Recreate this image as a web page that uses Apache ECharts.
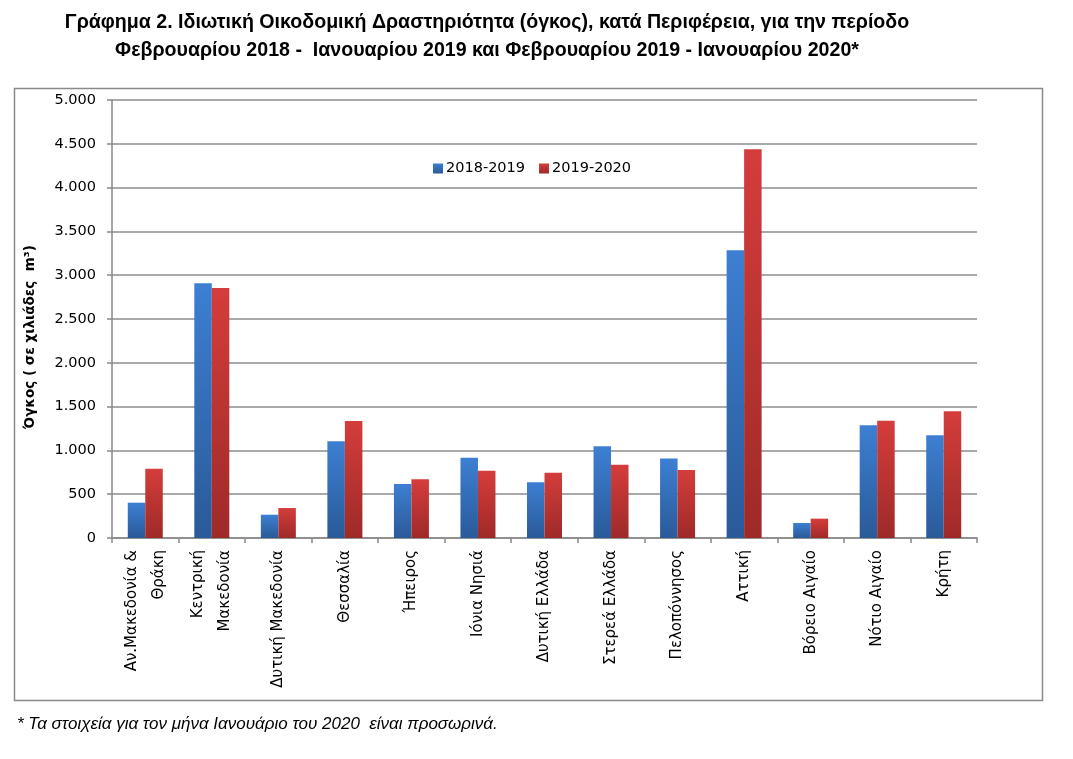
<!DOCTYPE html>
<html>
<head>
<meta charset="utf-8">
<script src="https://cdn.jsdelivr.net/npm/echarts@6/dist/echarts.min.js"></script>
<style>
html,body{margin:0;padding:0;background:#fff;}
#c{width:1073px;height:759px;}
</style>
</head>
<body>
<div id="c"></div>
<script>
var categories = ["Αν.Μακεδονία &\nΘράκη", "Κεντρική\nΜακεδονία", "Δυτική Μακεδονία", "Θεσσαλία", "Ήπειρος", "Ιόνια Νησιά", "Δυτική Ελλάδα", "Στερεά Ελλάδα", "Πελοπόννησος", "Αττική", "Βόρειο Αιγαίο", "Νότιο Αιγαίο", "Κρήτη"];
var values2018_2019 = [403, 2908, 266, 1104, 617, 916, 637, 1046, 908, 3284, 171, 1286, 1172];
var values2019_2020 = [791, 2854, 342, 1336, 671, 767, 744, 836, 775, 4437, 221, 1339, 1446];
var seriesNames = ["2018-2019", "2019-2020"];
var titleLines = ["Γράφημα 2. Ιδιωτική Οικοδομική Δραστηριότητα (όγκος), κατά Περιφέρεια, για την περίοδο", "Φεβρουαρίου 2018 -  Ιανουαρίου 2019 και Φεβρουαρίου 2019 - Ιανουαρίου 2020*"];
var yAxisTitle = "Όγκος ( σε χιλιάδες  m³)";
var footnote = "* Τα στοιχεία για τον μήνα Ιανουάριο του 2020  είναι προσωρινά.";

var chart = echarts.init(document.getElementById('c'), null, {renderer: 'canvas'});

function grad(top, bottom) {
  return new echarts.graphic.LinearGradient(0, 0, 0, 1, [
    {offset: 0, color: top}, {offset: 1, color: bottom}
  ]);
}

var option = {
  backgroundColor: '#ffffff',
  animation: false,
  title: {
    text: titleLines.join('\n'),
    left: 482, top: 4, textAlign: 'center',
    textStyle: {fontFamily: 'Liberation Sans', fontWeight: 'bold', fontSize: 19.6, lineHeight: 28, color: '#000'}
  },
  legend: {
    data: seriesNames,
    left: 428, top: 156,
    icon: 'rect', itemWidth: 10, itemHeight: 10, itemGap: 14,
    textStyle: {fontFamily: 'DejaVu Sans', fontSize: 14.5, color: '#000', padding: [0,0,0,-2]}
  },
  grid: {left: 112, right: 96, top: 100, bottom: 221, containLabel: false},
  xAxis: {
    type: 'category',
    data: categories,
    axisLine: {lineStyle: {color: '#888', width: 1.5}},
    axisTick: {show: true, length: 5, lineStyle: {color: '#888', width: 1.5}},
    axisLabel: {rotate: 90, interval: 0, margin: 12, fontFamily: 'DejaVu Sans', fontSize: 15, color: '#000', lineHeight: 27}
  },
  yAxis: {
    type: 'value', min: 0, max: 5000, interval: 500,
    axisLine: {show: true, lineStyle: {color: '#888', width: 1.5}},
    axisTick: {show: true, length: 5, lineStyle: {color: '#888', width: 1.5}},
    splitLine: {lineStyle: {color: '#8c8c8c', width: 1.5}},
    axisLabel: {margin: 16, fontFamily: 'DejaVu Sans', fontSize: 14.5, color: '#000',
      formatter: function (v) { return v >= 1000 ? Math.floor(v/1000) + '.' + String(v%1000).padStart(3,'0') : String(v); }}
  },
  series: [
    {name: seriesNames[0], type: 'bar', data: values2018_2019, barWidth: 17.5, barGap: '0%', barCategoryGap: '47%',
     itemStyle: {color: grad('#3d7fd3', '#2a5a98')}},
    {name: seriesNames[1], type: 'bar', data: values2019_2020, barWidth: 17.5, barGap: '0%', barCategoryGap: '47%',
     itemStyle: {color: grad('#d43d3b', '#9e2a28')}}
  ],
  graphic: [
    {type: 'rect', shape: {x: 14.5, y: 88.5, width: 1028, height: 612}, style: {fill: null, stroke: '#8a8a8a', lineWidth: 1.5}, z: -1},
    {type: 'text', x: 30, y: 337, rotation: Math.PI / 2,
     style: {text: yAxisTitle, font: 'bold 13.5px "DejaVu Sans"', fill: '#000', align: 'center', verticalAlign: 'middle'}},
    {type: 'text', left: 17, top: 716, style: {text: footnote, font: 'italic 17px "Liberation Sans"', fill: '#000'}}
  ]
};
chart.setOption(option);
</script>
</body>
</html>
